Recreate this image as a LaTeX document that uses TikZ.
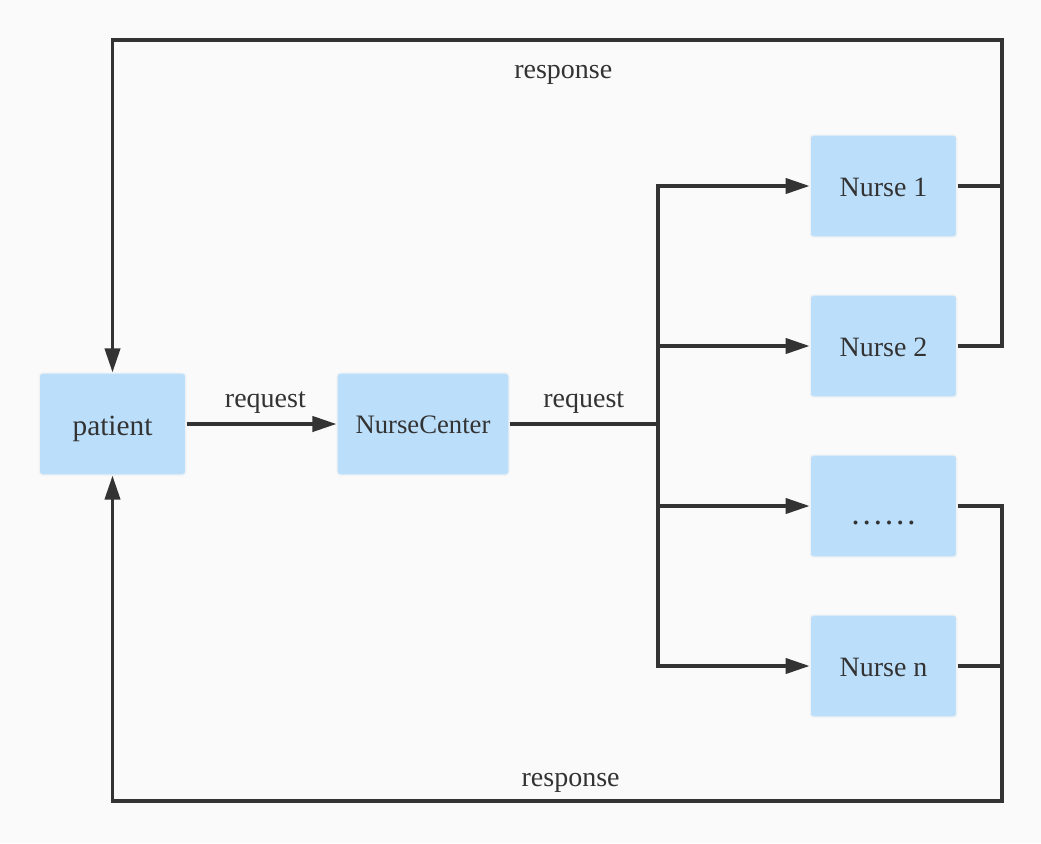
\documentclass[tikz,border=0pt]{standalone}
\usepackage{fontspec}
\setmainfont{Liberation Serif}
\usetikzlibrary{arrows.meta}
\definecolor{bgcol}{HTML}{FAFAFA}
\definecolor{boxcol}{HTML}{BBDEFA}
\definecolor{linecol}{HTML}{333333}
\definecolor{edgecol}{HTML}{F0F2F4}
\tikzset{
  box/.style={fill=boxcol, draw=edgecol, line width=1pt, rounded corners=2.5pt,
    minimum width=110pt, minimum height=76.5pt, inner sep=0pt, text=linecol,
    text height=15pt, text depth=0pt, font=\fontsize{21}{25}\selectfont},
  wire/.style={draw=linecol, line width=2.4pt},
  arr/.style={wire, -{Triangle[length=18pt,width=11.5pt]}},
  lbl/.style={text=linecol, inner sep=0pt, font=\fontsize{21}{25}\selectfont}
}
\begin{document}
\begin{tikzpicture}[x=0.75pt, y=-0.75pt]
    \fill[bgcol] (0,0) rectangle (1041,843);
    % boxes
    \node[box, text height=16.5pt, font=\fontsize{22}{26}\selectfont] (patient) at (112.5,424) {patient};
    \node[box, minimum width=129pt, text height=13.5pt, font=\fontsize{20}{24}\selectfont] (center) at (423,424) {NurseCenter};
    \node[box] (nurseA) at (883.5,186) {Nurse 1};
    \node[box] (nurseB) at (883.5,346) {Nurse 2};
    \node[box, text height=28pt, font=\fontsize{25}{30}\selectfont] (nurseDots) at (883.5,506) {……};
    \node[box] (nurseN) at (883.5,666) {Nurse n};
    \coordinate (split) at (658,424);
    \coordinate (topR) at (1002,40);
    \coordinate (topL) at (112.5,40);
    \coordinate (botR) at (1002,801);
    \coordinate (botL) at (112.5,801);
    % requests
    \draw[arr] (patient) -- node[lbl, above=6.5pt, xshift=3pt] {request} (center);
    \draw[wire] (center) -- node[lbl, above=6.5pt] {request} (split);
    \draw[wire, line cap=rect] (split |- nurseA) -- (split |- nurseN);
    \foreach \n in {nurseA, nurseB, nurseDots, nurseN}
        \draw[arr] (split |- \n) -- (\n);
    % responses
    \draw[wire] (nurseA.east) -- (nurseA.east -| topR);
    \draw[arr] (nurseB.east) -| (topR) -- node[lbl, below=18pt, xshift=4.5pt] {response} (topL) -- (patient.north);
    \draw[wire] (nurseN.east) -- (nurseN.east -| botR);
    \draw[arr] (nurseDots.east) -| (botR) -- node[lbl, above=5pt, xshift=10pt] {response} (botL) -- (patient.south);
\end{tikzpicture}
\end{document}
